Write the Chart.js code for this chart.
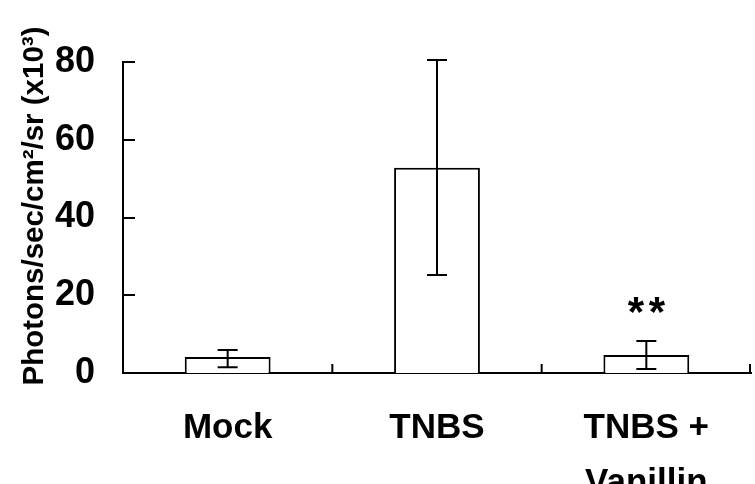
<!DOCTYPE html>
<html><head><meta charset="utf-8">
<script src="https://cdn.jsdelivr.net/npm/chart.js@4"></script>
<style>html,body{margin:0;padding:0;background:#fff;overflow:hidden}#wrap{width:755px;height:484px;position:relative}</style>
</head><body><div id="wrap"><canvas id="c"></canvas></div>
<script>
const categories = [["Mock"], ["TNBS"], ["TNBS +", "Vanillin"]];
const means = [4.1, 52.8, 4.6];
const errLow = [1.5, 25.2, 1.0];
const errHigh = [5.9, 80.5, 8.2];
const marks = ["", "", "**"];
const yTicks = [0, 20, 40, 60, 80];
const yTitle = "\u2002 Photons/sec/cm\u00B2/sr (x10\u00B3)";

const FONT = "'Liberation Sans', Arial, sans-serif";

const extras = {
  id: 'extras',
  afterDatasetsDraw(chart) {
    const ctx = chart.ctx, x = chart.scales.x, y = chart.scales.y;
    ctx.save();
    ctx.strokeStyle = '#000'; ctx.lineWidth = 2;
    // y ticks (inside)
    yTicks.forEach(v => {
      if (v === 0) return;
      const py = Math.round(y.getPixelForValue(v));
      ctx.beginPath(); ctx.moveTo(x.left, py); ctx.lineTo(x.left + 12, py); ctx.stroke();
    });
    // x category boundary ticks (upward)
    const n = categories.length;
    for (let i = 0; i < n; i++) {
      const px = i < n - 1 ? (x.getPixelForValue(i) + x.getPixelForValue(i + 1)) / 2 : x.right - 1;
      ctx.beginPath(); ctx.moveTo(px, y.bottom); ctx.lineTo(px, y.bottom - 9); ctx.stroke();
    }
    // error bars
    means.forEach((m, i) => {
      const px = x.getPixelForValue(i);
      const pl = y.getPixelForValue(errLow[i]), ph = y.getPixelForValue(errHigh[i]);
      ctx.beginPath();
      ctx.moveTo(px, pl); ctx.lineTo(px, ph);
      ctx.moveTo(px - 10, pl); ctx.lineTo(px + 10, pl);
      ctx.moveTo(px - 10, ph); ctx.lineTo(px + 10, ph);
      ctx.stroke();
      if (marks[i]) {
        ctx.fillStyle = '#000';
        ctx.font = "bold 42px " + FONT;
        ctx.textAlign = 'center'; ctx.textBaseline = 'alphabetic';
        const chars = marks[i].split('');
        chars.forEach((ch, k) => {
          ctx.fillText(ch, px + (k - (chars.length - 1) / 2) * 21, ph - 15);
        });
      }
    });
    ctx.restore();
  }
};

new Chart(document.getElementById('c'), {
  type: 'bar',
  data: {
    labels: categories,
    datasets: [{
      data: means,
      backgroundColor: '#fff',
      borderColor: '#000',
      borderWidth: 2,
      borderSkipped: 'bottom',
      categoryPercentage: 1,
      barPercentage: 0.41
    }]
  },
  options: {
    responsive: true, maintainAspectRatio: false, animation: false,
    layout: { padding: { top: 62, right: 4, left: 0, bottom: 0 } },
    plugins: { legend: { display: false }, tooltip: { enabled: false } },
    scales: {
      x: {
        grid: { display: false, drawTicks: false },
        border: { display: true, color: '#000', width: 2 },
        ticks: { color: '#000', font: { family: FONT, size: 35, weight: 'bold', lineHeight: 55 / 35 }, padding: 28, maxRotation: 0, autoSkip: false },
        afterFit(s) { s.height = 111; }
      },
      y: {
        min: 0, max: 80,
        grid: { display: false, drawTicks: false },
        border: { display: true, color: '#000', width: 2 },
        ticks: { stepSize: 20, color: '#000', font: { family: FONT, size: 36, weight: 'bold' }, padding: 28 },
        title: { display: true, text: yTitle, color: '#000', font: { family: FONT, size: 29.5, weight: 'bold' }, padding: { top: 17, bottom: 0 } },
        afterFit(s) { s.width = 123; }
      }
    }
  },
  plugins: [extras]
});
</script></body></html>
